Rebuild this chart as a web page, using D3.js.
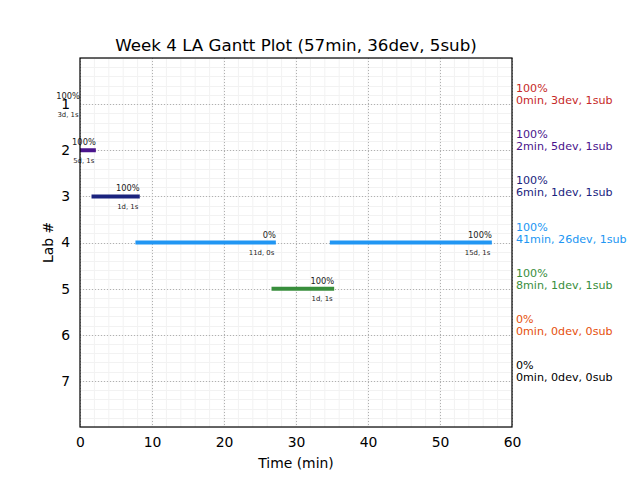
<!DOCTYPE html>
<html><head><meta charset="utf-8">
<script src="https://cdn.jsdelivr.net/npm/d3@7/dist/d3.min.js"></script>
<style>body{margin:0;background:#fff}svg{display:block;font-family:"DejaVu Sans",sans-serif}</style>
</head><body>
<script>
const title = "Week 4 LA Gantt Plot (57min, 36dev, 5sub)";
const labs = [1, 2, 3, 4, 5, 6, 7];
const labColors = ["#C62828", "#4A148C", "#1A237E", "#2196F3", "#388E3C", "#E6500D", "#000000"];
const labPct = ["100%", "100%", "100%", "100%", "100%", "0%", "0%"];
const labInfo = ["0min, 3dev, 1sub", "2min, 5dev, 1sub", "6min, 1dev, 1sub", "41min, 26dev, 1sub", "8min, 1dev, 1sub", "0min, 0dev, 0sub", "0min, 0dev, 0sub"];
const segLab = [1, 2, 3, 4, 4, 5];
const segStart = [0, 0, 1.6, 7.7, 34.7, 26.6];
const segEnd = [0, 2.2, 8.3, 27.2, 57.2, 35.3];
const segPct = ["100%", "100%", "100%", "0%", "100%", "100%"];
const segInfo = ["3d, 1s", "5d, 1s", "1d, 1s", "11d, 0s", "15d, 1s", "1d, 1s"];
const xTicks = [0, 10, 20, 30, 40, 50, 60];

const W = 640, H = 480;
const m = {l: 80, r: 128, t: 58, b: 53};
const svg = d3.select("body").append("svg").attr("width", W).attr("height", H);
const x = d3.scaleLinear().domain([0, 60]).range([m.l, W - m.r]);
const y = d3.scaleLinear().domain([0, 8]).range([m.t, H - m.b]);

// minor grid
const g = svg.append("g");
g.selectAll(".mx").data(d3.range(0, 60.01, 2)).join("line")
  .attr("x1", d => x(d)).attr("x2", d => x(d)).attr("y1", y(0)).attr("y2", y(8))
  .attr("stroke", "#f2f2f2").attr("stroke-width", 1);
g.selectAll(".my").data(d3.range(0, 8.01, 0.2)).join("line")
  .attr("x1", x(0)).attr("x2", x(60)).attr("y1", d => Math.round(y(d)) + 0.5).attr("y2", d => Math.round(y(d)) + 0.5)
  .attr("stroke", "#f2f2f2").attr("stroke-width", 1);
// major grid
g.selectAll(".gx").data(xTicks).join("line")
  .attr("x1", d => Math.round(x(d)) + 0.5).attr("x2", d => Math.round(x(d)) + 0.5).attr("y1", y(0)).attr("y2", y(8))
  .attr("stroke", "#b0b0b0").attr("stroke-dasharray", "1,2");
g.selectAll(".gy").data(labs).join("line")
  .attr("x1", x(0)).attr("x2", x(60)).attr("y1", d => Math.round(y(d)) + 0.5).attr("y2", d => Math.round(y(d)) + 0.5)
  .attr("stroke", "#b0b0b0").attr("stroke-dasharray", "1,2");

// bars
const segs = segLab.map((l, i) => ({lab: l, s: segStart[i], e: segEnd[i], pct: segPct[i], info: segInfo[i]}));
svg.selectAll(".bar").data(segs).join("line")
  .attr("x1", d => x(d.s)).attr("x2", d => x(d.e))
  .attr("y1", d => y(d.lab)).attr("y2", d => y(d.lab))
  .attr("stroke", d => labColors[d.lab - 1]).attr("stroke-width", 4);
svg.selectAll(".pct").data(segs).join("text")
  .attr("x", d => x(d.e)).attr("y", d => y(d.lab) - 5)
  .attr("text-anchor", "end").attr("font-size", 8.3).attr("fill", "#222").text(d => d.pct);
svg.selectAll(".inf").data(segs).join("text")
  .attr("x", d => x(d.e) - 1.5).attr("y", d => y(d.lab) + 12.5)
  .attr("text-anchor", "end").attr("font-size", 6.9).attr("fill", "#222").text(d => d.info);

// axes frame
svg.append("rect").attr("x", x(0)).attr("y", y(0)).attr("width", x(60) - x(0)).attr("height", y(8) - y(0))
  .attr("fill", "none").attr("stroke", "#000").attr("stroke-width", 1.2);

// x axis
const xa = svg.append("g").attr("transform", `translate(0,${y(8)})`)
  .call(d3.axisBottom(x).tickValues(xTicks).tickSize(0).tickPadding(10).tickFormat(d3.format("d")));
xa.select(".domain").remove();
xa.selectAll("text").attr("font-size", 13.9).attr("font-family", "DejaVu Sans").attr("fill", "#000");
// y axis
const ya = svg.append("g").attr("transform", `translate(${x(0)},0)`)
  .call(d3.axisLeft(y).tickValues(labs).tickSize(0).tickPadding(10).tickFormat(d3.format("d")));
ya.select(".domain").remove();
ya.selectAll("text").attr("font-size", 13.9).attr("font-family", "DejaVu Sans").attr("fill", "#000");

// right labels
svg.selectAll(".rp").data(labs).join("text")
  .attr("x", 516).attr("y", d => y(d) - 12).attr("font-size", 11.1)
  .attr("fill", (d, i) => labColors[i]).text((d, i) => labPct[i]);
svg.selectAll(".ri").data(labs).join("text")
  .attr("x", 516).attr("y", d => y(d)).attr("font-size", 11.1)
  .attr("fill", (d, i) => labColors[i]).text((d, i) => labInfo[i]);

// titles
svg.append("text").attr("x", (x(0) + x(60)) / 2).attr("y", 51).attr("text-anchor", "middle")
  .attr("font-size", 16.7).text(title);
svg.append("text").attr("x", (x(0) + x(60)) / 2).attr("y", 468).attr("text-anchor", "middle")
  .attr("font-size", 13.9).text("Time (min)");
svg.append("text").attr("transform", `translate(53,${(y(0) + y(8)) / 2}) rotate(-90)`).attr("text-anchor", "middle")
  .attr("font-size", 13.9).text("Lab #");
</script>
</body></html>
